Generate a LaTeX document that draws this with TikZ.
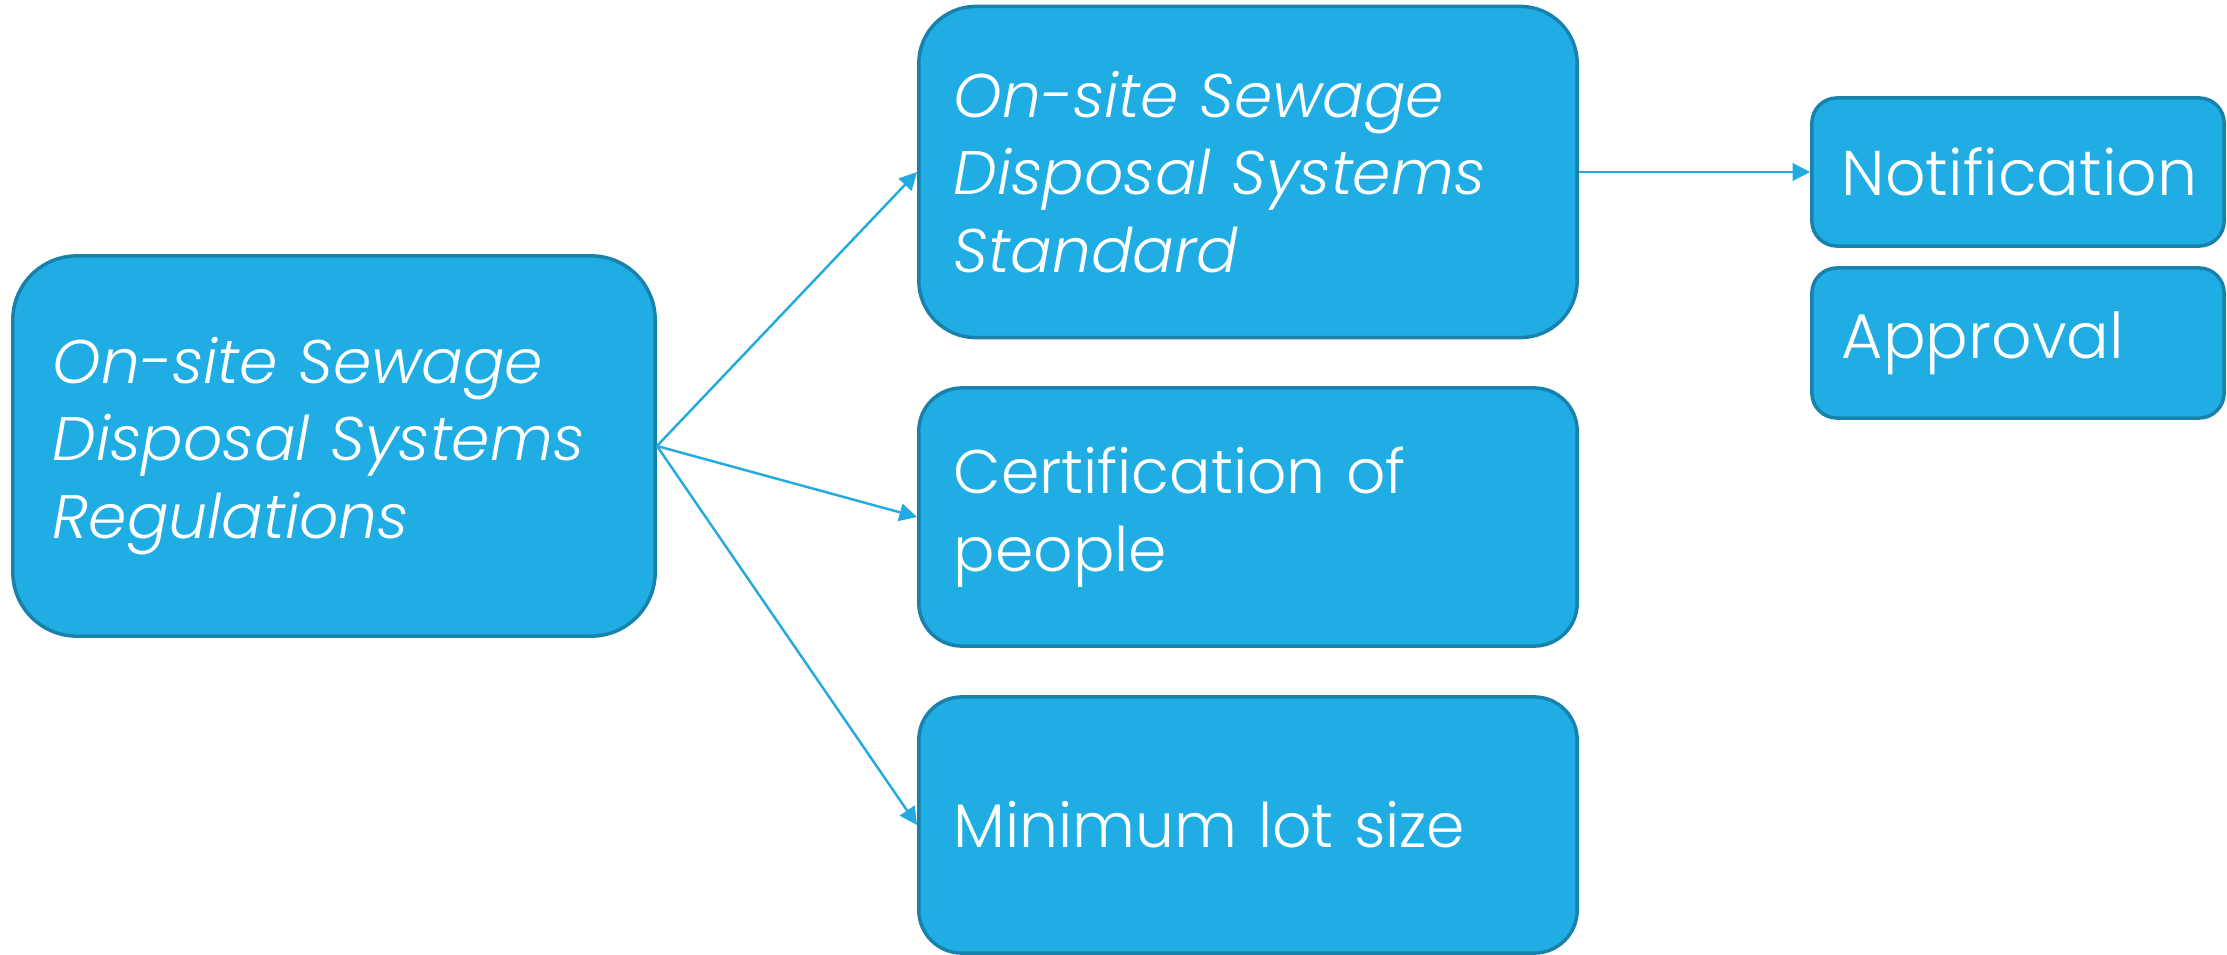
\documentclass[tikz,border=0pt]{standalone}
\usepackage{fontspec}
\setmainfont{Poppins}[UprightFont=* Light, ItalicFont=* Light Italic]
\usetikzlibrary{arrows.meta}
\usetikzlibrary{positioning}
\definecolor{boxblue}{RGB}{31,173,228}
\definecolor{boxedge}{RGB}{24,130,172}
\definecolor{linkblue}{RGB}{35,170,225}
\tikzset{
    stepnode/.style={draw=boxedge, line width=1pt, fill=boxblue, text=white,
        align=left, inner ysep=0pt, font=\fontsize{17.5}{22}\selectfont},
    smallnode/.style={stepnode, font=\fontsize{18}{22}\selectfont},
    link/.style={draw=linkblue, line width=0.7pt, -{Triangle[length=5pt,width=5pt]}}
}

\begin{document}
\begin{tikzpicture}[x=0.01cm, y=-0.01cm]
        \useasboundingbox (0,0) rectangle (2227,954);
        \node[stepnode, rounded corners=0.64cm, minimum width=6.42cm, minimum height=3.8cm,
            inner xsep=0.4cm, text width=5.62cm] (regs) at (334,446)
            {\itshape On-site Sewage\\Disposal Systems\\Regulations};
        \node[stepnode, rounded corners=0.57cm, minimum width=6.58cm, minimum height=3.31cm,
            inner xsep=0.35cm, text width=5.88cm] (std) at (1248,172)
            {\itshape On-site Sewage\\Disposal Systems\\Standard};
        \node[stepnode, rounded corners=0.43cm, minimum width=6.58cm, minimum height=2.58cm,
            inner xsep=0.35cm, text width=5.88cm] (cert) at (1248,517)
            {Certification of\\people};
        \node[stepnode, rounded corners=0.43cm, minimum width=6.58cm, minimum height=2.56cm,
            inner xsep=0.35cm, text width=5.88cm] (lot) at (1248,825)
            {Minimum lot size};
        \node[smallnode, rounded corners=0.25cm, minimum width=4.12cm, minimum height=1.48cm,
            inner xsep=0.3cm, text width=3.52cm] (notif) at (2018,172)
            {Notification};
        \node[smallnode, rounded corners=0.25cm, minimum width=4.12cm, minimum height=1.5cm,
            inner xsep=0.3cm, text width=3.52cm] (appr) at (2018,343)
            {Approval};
        \draw[link] (regs.east) -- (std.west);
        \draw[link] (regs.east) -- (cert.west);
        \draw[link] (regs.east) -- (lot.west);
        \draw[link] (std.east) -- (notif.west);
    \end{tikzpicture}
\end{document}
